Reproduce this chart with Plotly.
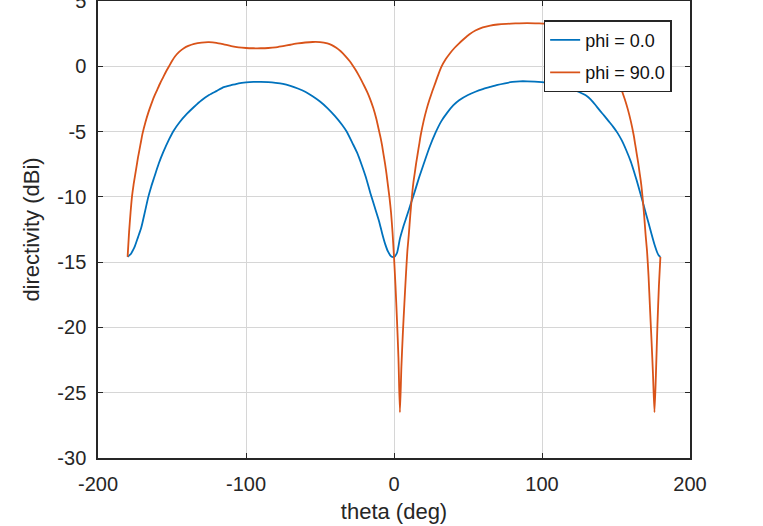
import plotly.graph_objects as go

# theta samples (deg) and directivity (dBi)
theta_phi0 = [-180, -178, -176, -175, -173, -171, -170, -168, -166, -164, -162, -159,
              -156, -152, -149, -145, -140, -135, -130, -125, -120, -115, -110, -105, -100,
              -95, -90, -85, -80, -75, -70, -65, -60, -55, -50, -45, -40, -35, -32,
              -28, -25, -22, -19, -16, -13, -10, -8, -6, -4, -2, 0,
              2, 4, 6, 8, 10, 12, 14, 17, 20, 24, 28, 32, 36, 40, 44, 50, 55, 60,
              65, 70, 75, 80, 85, 90, 95, 100, 105, 110, 115, 120, 125, 130, 133, 136,
              139, 142, 145, 148, 151, 154, 157, 160, 162, 164, 166, 168, 170, 172,
              174, 176, 178, 179, 180]
dir_phi0 = [-14.6, -14.4, -14.0, -13.75, -13.1, -12.45, -12.0, -11.0, -10.0, -9.2, -8.5, -7.47,
            -6.6, -5.6, -4.95, -4.3, -3.65, -3.1, -2.6, -2.2, -1.9, -1.6, -1.45, -1.3, -1.23,
            -1.2, -1.2, -1.22, -1.27, -1.35, -1.5, -1.7, -1.95, -2.3, -2.7, -3.2, -3.8, -4.5, -5.0,
            -5.9, -6.6, -7.5, -8.5, -9.7, -10.8, -11.9, -12.8, -13.6, -14.2, -14.55, -14.6,
            -14.3, -13.2, -12.4, -11.7, -11.0, -10.3, -9.6, -8.5, -7.5, -6.2, -5.1, -4.2, -3.55, -3.0, -2.6, -2.2, -1.95, -1.75,
            -1.58, -1.42, -1.3, -1.2, -1.15, -1.15, -1.17, -1.22, -1.3, -1.42, -1.58, -1.75, -1.97, -2.25, -2.55, -2.95,
            -3.38, -3.78, -4.2, -4.62, -5.1, -5.7, -6.45, -7.3, -8.0, -8.75, -9.55, -10.35, -11.2, -12.0,
            -12.85, -13.65, -14.3, -14.5, -14.6]

theta_phi90 = [-180, -179, -178, -177, -176, -175, -174, -173, -172, -171, -170, -168,
               -166, -164, -162, -160, -158, -156, -154, -152, -150, -148, -145, -142,
               -139, -135, -130, -125, -120, -115, -110, -105, -100, -95, -90, -85, -80,
               -75, -70, -65, -60, -55, -50, -45, -42, -39, -36, -33, -30, -28, -26, -24,
               -22, -20, -18, -16, -14, -12, -10, -9, -8, -7, -6, -5, -4, -3, -2, -1, 0,
               1, 2, 3, 4, 5, 6, 7, 8, 9, 10, 11, 12, 13, 14, 15, 16, 17, 18, 20, 22, 24,
               26, 28, 30, 32, 35, 38, 41, 44, 47, 51, 55, 60, 65, 70, 76, 82, 90, 98,
               104, 110, 115, 120, 125, 129, 133, 136, 139, 142, 145, 148, 150, 152, 154,
               156, 158, 160, 162, 163, 164, 165, 166, 167, 168, 169, 170, 171, 172, 173,
               174, 175, 176, 177, 178, 179, 180]
dir_phi90 = [-14.6, -12.7, -11.2, -9.95, -9.1, -8.4, -7.7, -7.0, -6.4, -5.8, -5.2, -4.3,
             -3.55, -2.9, -2.3, -1.8, -1.3, -0.85, -0.4, 0.0, 0.4, 0.75, 1.12, 1.38,
             1.56, 1.72, 1.82, 1.85, 1.8, 1.68, 1.55, 1.45, 1.4, 1.38, 1.38, 1.4, 1.45,
             1.55, 1.65, 1.75, 1.82, 1.86, 1.85, 1.75, 1.62, 1.42, 1.15, 0.8, 0.4, 0.08, -0.27, -0.66,
             -1.08, -1.53, -2.0, -2.55, -3.2, -4.0, -5.0, -5.5, -6.1, -6.8, -7.5, -8.3, -9.2, -10.1, -11.2, -12.7, -14.6,
             -16.8, -19.4, -22.3, -26.5, -23.0, -20.4, -18.2, -16.1, -14.2, -12.9, -11.4, -10.1, -9.0, -8.2, -7.4, -6.7, -6.0, -5.3, -4.2, -3.3, -2.55,
             -1.88, -1.25, -0.62, -0.05, 0.55, 1.02, 1.42, 1.76, 2.07, 2.45, 2.74, 2.98, 3.12, 3.2, 3.25, 3.28, 3.3, 3.28,
             3.25, 3.2, 3.12, 2.98, 2.74, 2.45, 2.07, 1.76, 1.42, 1.02, 0.55, -0.05, -0.62, -1.25, -1.88,
             -2.55, -3.3, -4.2, -5.3, -6.0, -6.7, -7.4, -8.2, -9.0, -10.1, -11.4, -12.9, -14.2, -16.1, -18.6,
             -21.0, -23.6, -26.5, -23.5, -19.8, -16.8, -14.6]

x_ticks = [-200, -100, 0, 100, 200]
y_ticks = [-30, -25, -20, -15, -10, -5, 0, 5]

ink = "#262626"

fig = go.Figure()
fig.add_trace(go.Scatter(x=theta_phi0, y=dir_phi0, mode="lines", name="phi = 0.0",
                         legendgroup="a",
                         line=dict(color="#0072BD", width=1.8, shape="spline", smoothing=0.6)))
fig.add_trace(go.Scatter(x=theta_phi90, y=dir_phi90, mode="lines", name="phi = 90.0",
                         legendgroup="b",
                         line=dict(color="#D95319", width=1.8, shape="spline", smoothing=0.6)))

axis_common = dict(showline=True, linecolor=ink, linewidth=1.5, mirror="allticks",
                   ticks="inside", ticklen=5, tickwidth=1.4, tickcolor=ink,
                   showgrid=True, gridcolor="#d6d6d6", gridwidth=1.4, zeroline=False,
                   ticklabeloverflow="allow",
                   tickfont=dict(size=20, color=ink))

fig.update_xaxes(range=[-200, 200], tickvals=x_ticks, ticktext=[str(v) for v in x_ticks],
                 title=dict(text="theta (deg)", font=dict(size=22, color=ink), standoff=10),
                 ticklabelstandoff=7,
                 **axis_common)
fig.update_yaxes(range=[-30, 5], tickvals=y_ticks, ticktext=[str(v) for v in y_ticks],
                 title=dict(text="directivity (dBi)", font=dict(size=22, color=ink), standoff=12),
                 ticklabelstandoff=6,
                 **axis_common)

fig.update_layout(
    width=763, height=526,
    margin=dict(l=98, r=73, t=1, b=68, autoexpand=False),
    paper_bgcolor="white", plot_bgcolor="white",
    font=dict(family="Liberation Sans, Arial, sans-serif", size=20, color=ink),
    legend=dict(x=0.969, y=0.958, xanchor="right", yanchor="top",
                bgcolor="white", bordercolor=ink, borderwidth=1.5,
                font=dict(size=18, color="#111111"), traceorder="grouped",
                tracegroupgap=6),
    showlegend=True,
)

fig.write_html("out.html", config={"displayModeBar": False},
               post_script="document.body.style.margin='0';")
